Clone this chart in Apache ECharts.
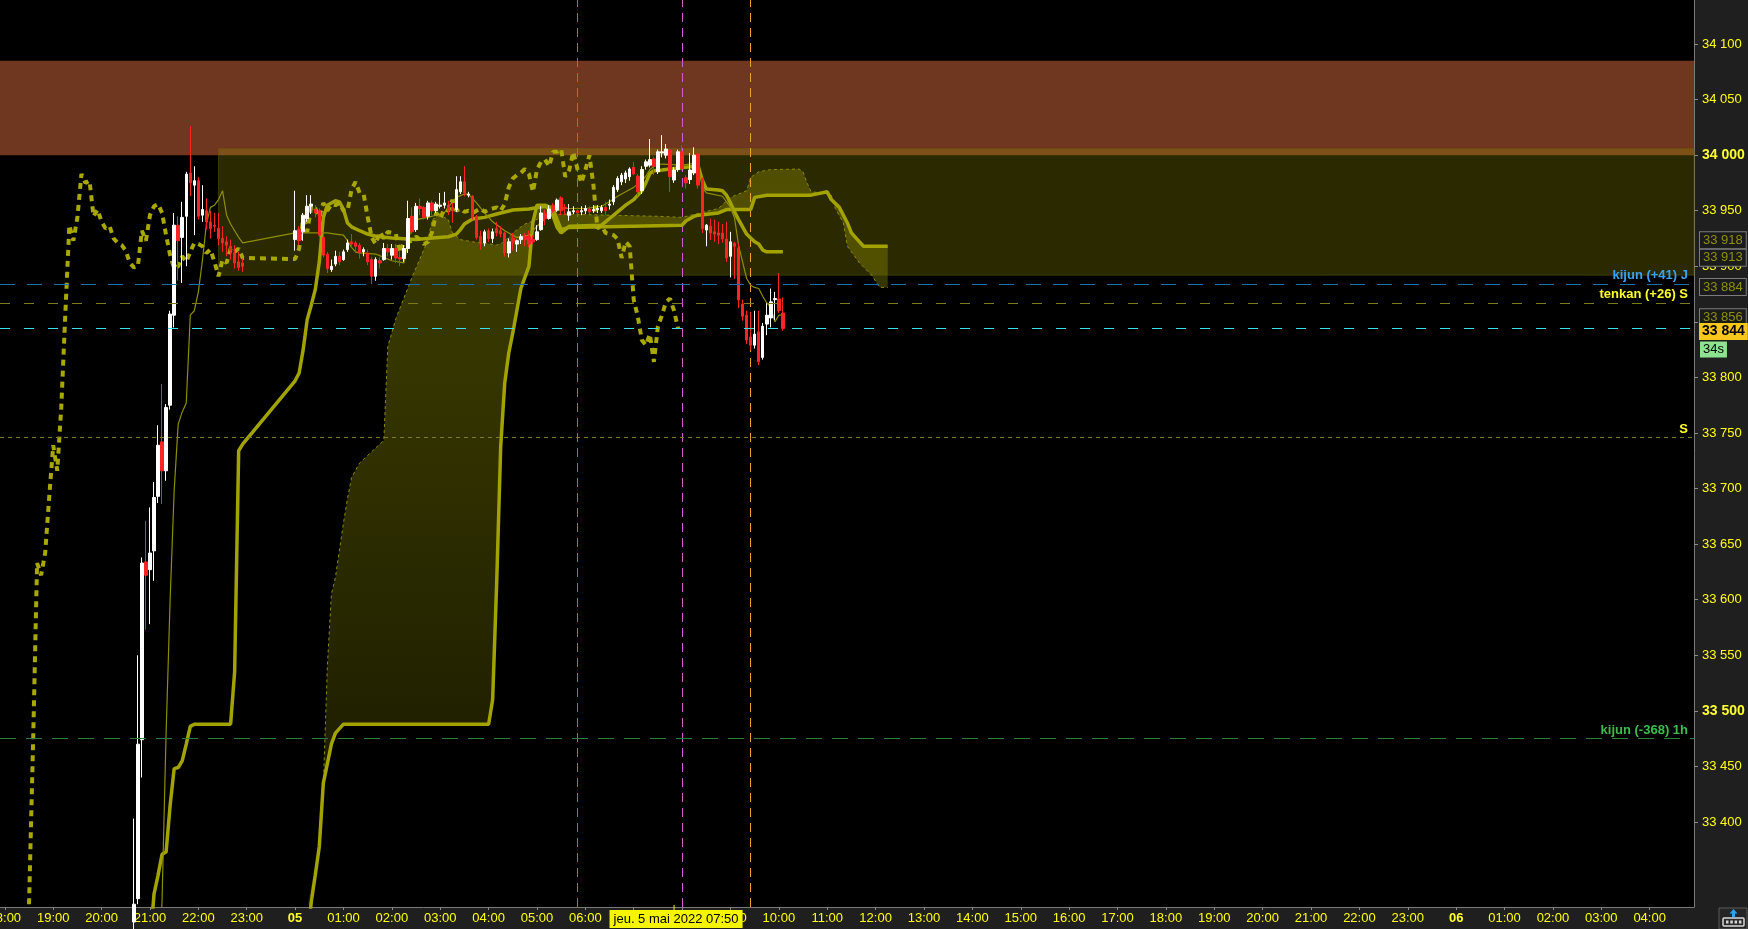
<!DOCTYPE html>
<html><head><meta charset="utf-8">
<script src="https://cdn.jsdelivr.net/npm/echarts@6/dist/echarts.min.js"></script>
<style>html,body{margin:0;padding:0;background:#1f1f1f;overflow:hidden}#c{width:1748px;height:929px}</style>
</head><body><div id="c"></div>
<script>
// ---------------- DATA ----------------
// times are 'day/HH:MM' (May 2022)
const SESSIONS = [['4/18:30','4/22:55'],['5/00:00','5/10:05']];
const FIRST_CANDLE = '4/20:40';
const CHIKOU_SHIFT = 26;

const OPEN = [
33310,33331,33474,33634,33627,33644,33693,33742,33716,33775,33856,33937,33926,33945,33984,33973,33977,33946,33950,33940,33937,33934,33925,33922,33918,33912,33904,33903,
33924,33933,33931,33943,33954,33951,33950,33926,33911,33897,
33902,33909,33906,33915,33922,33921,33919,33913,33912,33906,
33891,33905,33906,33916,33910,33916,33908,33907,33916,33945,
33933,33954,33953,33945,33957,33950,33954,33955,33955,33953,
33951,33967,33976,33964,33963,33945,33927,33921,33932,33925,
33934,33932,33930,33912,33925.5,33920,33924,33927,33926.6,33924,
33924,33933,33948,33943,33955,33950.6,33961.6,33953,33946,33949,
33950,33949,33950,33951.5,33950,33951,33950,33953,33955,33958,
33969,33976,33978.5,33980.6,33989,33981,33968,33990,33991,33996.6,
33985,34002,34000,34004.6,33977.6,33987,34003,33979.6,33978,33984,
34001,33979,33932.6,33936,33931,33930,33930,33924.5,33909,33920.7,
33916.5,33866,33856,33836.4,33829,33841,33818,33848,33853.5,33870,
33870.6,33858];
const CLOSE = [
33326,33470,33633,33622,33642,33692,33739,33716,33773,33857,33937,33923,33944,33983,33975,33977,33945,33951,33940,33934,33936,33925,33921,33919,33914,33903,33899,33900,
33932,33923,33946,33954,33956,33948,33928,33910,33898,33900,
33909,33904,33913,33921,33920,33918,33912,33915,33904,33891,
33906,33903,33916,33913,33916,33907.5,33906.5,33916,33943,33931,
33954,33952,33944,33957,33950,33956,33955,33957,33950,33950,
33969,33976,33966,33965,33944.5,33926,33920,33931,33925,33931,
33930,33929,33912,33922,33922,33923,33926.6,33924,33920,33922,
33931,33948,33943,33951.5,33950,33959.6,33950,33952,33949,33950,
33948,33950,33952,33949,33951,33952,33953,33950,33956,33971,
33979,33982,33984,33987.5,33983,33967,33987,33994,33996,33990,
34003,34003,34005.5,33980.6,33986.6,34003,33988,33975,33986.6,34000,
33973,33934,33937,33930,33929,33928,33924.5,33907.5,33922,33918,
33869.7,33855,33833.7,33829,33839,33814,33846,33856,33868,33871,
33860,33844];
const LOW = [
33280,33326,33440,33573,33578,33617,33687,33686,33707,33771,33845,33887,33885,33900,33963,33928,33942,33940,33933,33925,33931,33919,33913,33909,33906,33898,33896,33895,
33914,33919,33923,33940,33947,33944,33926,33908,33894,33895,
33900,33901,33905,33913,33917,33912,33907,33909,33901,33884,
33887,33898,33905,33909,33906,33903,33900,33904,33912,33929,
33931,33946,33942,33942,33946,33948,33952,33952,33946,33939,
33949,33965,33963,33962,33942,33924,33915,33918,33922,33921,
33927,33926,33908.6,33908,33914,33913,33920,33918,33917,33920,
33923,33932,33937,33942,33948,33949,33946,33946,33941,33947,
33946,33946,33947,33947,33948,33948,33948,33946,33951,33955,
33967,33973,33975,33977,33982,33963,33965,33987,33989,33982,
33983,33998,33997,33967,33975,33985,33986,33970,33974,33982,
33970,33930,33918,33923.6,33922,33920,33921,33904,33890,33888.6,
33862.5,33851,33830,33824.6,33826,33811,33816,33838,33845,33851.7,
33858,33842];
const HIGH = [
33403,33550,33638,33671,33683,33706,33757,33794,33776,33860,33948,33945,33958,33985,34026,33990,33980,33973,33961,33950,33948,33948,33936,33927,33924,33919,33913,33907,
33968,33936,33948,33964,33964,33955,33952,33928,33913,33906,
33914,33913,33915,33924,33929,33923,33921,33917,33915,33908,
33908,33908,33921,33920,33920,33920,33914,33919,33959,33953,
33957,33961,33954,33959,33959,33958,33966,33967,33959,33957,
33981,33981,33990,33967,33964,33946,33932,33933,33934,33934,
33940,33936,33931,33925,33930,33924,33929,33930,33932,33928,
33937,33954,33951,33955,33957,33961,33963,33956,33956,33954,
33953,33954,33955,33954,33955,33955,33955,33958,33960,33973,
33981,33984,33986,33989,33994,33983,33990,33996,34014.5,33998,
34005,34018,34010,34006,33989,34005,34009,33982,34002,34007,
34002,33980,33938,33943,33942,33940,33938,33940,33931,33922,
33921,33870,33860,33859,33860,33860,33849,33866.7,33880,33877,
33894,33872];

const TENKAN = [['4/21:10',33250],['4/21:15',33330],['4/21:20',33480],['4/21:25',33600],['4/21:30',33698],['4/21:35',33758],['4/21:40',33769],['4/21:45',33777],['4/21:50',33856],['4/21:55',33860],['4/22:00',33877],['4/22:05',33905],['4/22:10',33938],['4/22:15',33953],['4/22:20',33955],['4/22:25',33960],['4/22:30',33968],['4/22:35',33946],['4/22:40',33938],['4/22:45',33932],['4/22:50',33926],['4/22:55',33921],
['5/00:00',33930],['5/00:40',33930],['5/00:50',33929],['5/01:00',33928],['5/01:05',33923],['5/01:10',33917],['5/01:15',33913],['5/01:20',33912],['5/01:40',33911],['5/01:50',33908],['5/02:00',33905],['5/02:15',33903],['5/02:20',33921],['5/02:25',33938],['5/02:30',33942],['5/02:45',33944],['5/02:55',33946],['5/03:05',33948],['5/03:15',33958],['5/03:20',33962],['5/03:30',33965],['5/03:35',33965],['5/03:45',33957],['5/03:55',33948],['5/04:05',33940],['5/04:20',33932],['5/04:35',33926],['5/04:50',33928],['5/05:00',33936],['5/05:10',33943],['5/05:20',33949],['5/05:35',33952],['5/06:00',33952],['5/06:20',33954],['5/06:30',33958],['5/06:40',33963],['5/06:50',33967],['5/07:00',33971],['5/07:10',33977],['5/07:15',33981],['5/07:20',33987],['5/07:25',33990],['5/07:35',33992],['5/08:00',33991],['5/08:20',33993],['5/08:25',33971],['5/08:30',33966],['5/08:50',33963],['5/09:00',33953],['5/09:05',33943.5],['5/09:10',33919],['5/09:15',33904],['5/09:20',33889],['5/09:25',33883],['5/09:30',33881],['5/09:35',33880],['5/09:40',33873],['5/09:45',33867],['5/09:50',33863],['5/09:55',33850],['5/10:00',33856],['5/10:05',33856]];

const KIJUN = [['4/21:00',33290],['4/21:05',33335],['4/21:10',33352],['4/21:15',33371],['4/21:20',33373],['4/21:25',33415],['4/21:30',33448],['4/21:35',33449],['4/21:40',33455],['4/21:45',33470],['4/21:50',33486],['4/21:55',33488],['4/22:40',33488],['4/22:45',33535],['4/22:50',33734],['4/22:55',33740],
['5/00:00',33797],['5/00:05',33804],['5/00:10',33825],['5/00:15',33852],['5/00:20',33865],['5/00:25',33879],['5/00:30',33904],['5/00:35',33944],['5/00:40',33955],['5/00:50',33959],['5/00:55',33958],['5/01:00',33951],['5/01:05',33939],['5/01:10',33935.5],['5/01:20',33932],['5/01:30',33929],['5/01:40',33927],['5/02:00',33925.5],['5/02:30',33924],['5/02:50',33925.5],['5/03:10',33926.6],['5/03:20',33929],['5/03:25',33933],['5/03:30',33938],['5/03:40',33942.5],['5/03:55',33944],['5/04:10',33947],['5/04:30',33950.6],['5/04:50',33951.5],['5/05:10',33954],['5/05:15',33952],['5/05:20',33945],['5/05:25',33935],['5/05:30',33930],['5/05:35',33933],['5/05:40',33936],['5/06:20',33937],['5/06:25',33940],['5/06:30',33943],['5/06:40',33949],['5/06:50',33955],['5/07:00',33960],['5/07:10',33968],['5/07:15',33975],['5/07:20',33983.5],['5/07:25',33986],['5/07:35',33986.6],['5/07:50',33988],['5/08:10',33989.5],['5/08:20',33990],['5/08:25',33977.6],['5/08:30',33969.5],['5/08:45',33968.6],['5/08:50',33968],['5/08:55',33964],['5/09:00',33957],['5/09:05',33949],['5/09:10',33942],['5/09:15',33935.5],['5/09:20',33929],['5/09:25',33925.5],['5/09:30',33922],['5/09:35',33920],['5/09:40',33914.6],['5/09:45',33913],['5/10:05',33913]];

const SENKOU_A = [['5/00:15',33290],['5/00:20',33328],['5/00:25',33352],['5/00:30',33378],['5/00:35',33435],['5/00:45',33470],['5/00:50',33480],['5/01:00',33488],['5/04:00',33488],['5/04:05',33510],['5/04:10',33615],['5/04:15',33738],['5/04:20',33795],['5/04:25',33822],['5/04:30',33840],['5/04:40',33880],['5/04:50',33900],['5/04:55',33940],['5/05:00',33955],['5/05:10',33955],['5/05:20',33952],['5/05:25',33942],['5/05:30',33933],['5/05:40',33935],['5/08:00',33937],['5/08:05',33941],['5/08:15',33945],['5/08:20',33946],['5/08:45',33948],['5/08:55',33951],['5/09:25',33951],['5/09:30',33962],['5/09:45',33964],['5/10:40',33964],['5/11:00',33967],['5/11:05',33960],['5/11:15',33953],['5/11:25',33939],['5/11:30',33930],['5/11:40',33922],['5/11:45',33918],['5/12:15',33918]];

const SENKOU_B = [['5/00:30',33380],['5/00:35',33432],['5/00:40',33540],['5/00:45',33605],['5/00:50',33620],['5/01:00',33669],['5/01:05',33691],['5/01:10',33710],['5/01:20',33723],['5/01:45',33740],['5/01:50',33743],['5/01:55',33828],['5/02:05',33853],['5/02:25',33890],['5/02:45',33924],['5/02:50',33942],['5/03:00',33946],['5/03:10',33942],['5/03:15',33930],['5/03:25',33924],['5/03:40',33922],['5/03:55',33921],['5/04:10',33919],['5/04:20',33922],['5/04:30',33930],['5/04:45',33938],['5/05:10',33945],['5/05:30',33947],['5/07:30',33945],['5/08:00',33944],['5/08:45',33952],['5/09:00',33962],['5/09:20',33968],['5/09:25',33980],['5/09:35',33985],['5/09:50',33987],['5/10:25',33987.5],['5/10:30',33985],['5/10:35',33975],['5/10:40',33967],['5/10:55',33966],['5/11:05',33964],['5/11:10',33952],['5/11:20',33939],['5/11:25',33918],['5/11:40',33903],['5/11:55',33892],['5/12:05',33881],['5/12:15',33881]];

const RESIST_ZONE = [34000, 34085];
const RANGE_ZONE = {from:'4/22:25', low:33892, high:34006};
const LEVELS = [
  {name:'kijun (+41) J', value:33884},
  {name:'tenkan (+26) S', value:33867},
  {name:'S', value:33746},
  {name:'kijun (-368) 1h', value:33475}
];
const LAST_PRICE = 33844;
const TIMER = '34s';
const AXIS_MARKS = [33918, 33913, 33884, 33856];
const VLINES = ['5/05:50','5/08:00','5/09:25'];
const CROSSHAIR = {time:'5/07:50', text:'jeu. 5 mai 2022 07:50'};

const X_TICK_START = '4/18:00';
const X_TICK_LABELS = ['18:00','19:00','20:00','21:00','22:00','23:00','05','01:00','02:00','03:00','04:00','05:00','06:00','07:00','08:00','09:00','10:00','11:00','12:00','13:00','14:00','15:00','16:00','17:00','18:00','19:00','20:00','21:00','22:00','23:00','06','01:00','02:00','03:00','04:00'];
const Y_TICKS = [33400,33450,33500,33550,33600,33650,33700,33750,33800,33850,33900,33950,34000,34050,34100];
const Y_BOLD = [33500, 34000];
const X_RANGE = [-366, 1735];
const Y_RANGE = [33323.5, 34139.6];

// ---------------- HELPERS ----------------
function toMin(s){ const [d,hm]=s.split('/'); const [h,m]=hm.split(':').map(Number); return (Number(d)-5)*1440+h*60+m; }
const BARS = [];
SESSIONS.forEach(([a,b])=>{ for(let t=toMin(a);t<=toMin(b);t+=5) BARS.push(t); });
const START = BARS.indexOf(toMin(FIRST_CANDLE));
const X_TICK_VALUES = X_TICK_LABELS.map((_,i)=>toMin(X_TICK_START)+60*i);
const pairs = arr => arr.map(([t,v])=>[toMin(t),v]);
const fmt = v => { const s=String(Math.round(v)); return s.slice(0,s.length-3)+' '+s.slice(-3); };

const candleData = OPEN.map((o,j)=>[BARS[START+j], o, CLOSE[j], LOW[j], HIGH[j]]);
const chikouData = CLOSE.map((c,j)=>[BARS[START+j-CHIKOU_SHIFT], c]);

const FONT = "'Liberation Sans', Arial, sans-serif";
const YEL = '#ffff14';
const OLIVE = '#a3a300';

const LEVEL_STYLE = [
  {line:'#1d6fa5', text:'#3aa2f2', dash:[15,12], width:1},
  {line:'#7c7c1e', text:'#ffff2a', dash:[10,14], width:1},
  {line:'#7c7c1e', text:'#ffff2a', dash:[4,4], width:1},
  {line:'#2a7f38', text:'#3cbd4d', dash:[16,10], width:1}
];
const VLINE_COLORS = ['#4a7fe0','#cc5fcc','#e8a22e'];

const chart = echarts.init(document.getElementById('c'));

const option = {
  animation:false,
  backgroundColor:'#1f1f1f',
  grid:{left:0, right:54, top:0, bottom:22, show:true, backgroundColor:'#000', borderWidth:0, containLabel:false, outerBoundsMode:'none'},
  xAxis:{
    type:'value', min:X_RANGE[0], max:X_RANGE[1],
    splitLine:{show:false},
    axisLine:{show:true, onZero:false, lineStyle:{color:'#7a7a7a', width:1}},
    axisTick:{show:true, length:3, lineStyle:{color:'#8a8a8a'}, customValues:X_TICK_VALUES},
    axisLabel:{
      customValues:X_TICK_VALUES, margin:5, color:YEL, fontSize:13, fontFamily:FONT,
      formatter:v=>{ const s=X_TICK_LABELS[X_TICK_VALUES.indexOf(v)]||''; return s.length===2?'{d|'+s+'}':s; },
      rich:{d:{fontWeight:'bold', color:'#ffff30', fontSize:13, fontFamily:FONT}}
    }
  },
  yAxis:{
    type:'value', position:'right', min:Y_RANGE[0], max:Y_RANGE[1],
    splitLine:{show:false},
    axisLine:{show:true, onZero:false, lineStyle:{color:'#7a7a7a', width:1}},
    axisTick:{show:true, length:4, lineStyle:{color:'#8a8a8a'}, customValues:Y_TICKS},
    axisLabel:{
      customValues:Y_TICKS, margin:8, color:YEL, fontSize:13, fontFamily:FONT,
      formatter:v=> Y_BOLD.indexOf(v)>=0 ? '{b|'+fmt(v)+'}' : fmt(v),
      rich:{b:{fontWeight:'bold', color:'#ffff30', fontSize:14, fontFamily:FONT}}
    }
  },
  series:[
    { // cloud between senkou spans
      type:'custom', z:0, silent:true, data:[[X_RANGE[0], Y_RANGE[0]]],
      renderItem:(params, api)=>{
        const pts=[];
        pairs(SENKOU_A).forEach(([x,v])=>pts.push(api.coord([x, Math.max(v, Y_RANGE[0])])));
        pairs(SENKOU_B).reverse().forEach(([x,v])=>pts.push(api.coord([x, Math.max(v, Y_RANGE[0])])));
        return {type:'polygon', shape:{points:pts}, style:{fill:{type:'linear',x:0,y:0,x2:0,y2:1,colorStops:[
          {offset:0,color:'rgb(52,52,0)'},{offset:0.25,color:'rgb(54,54,0)'},{offset:1,color:'rgb(22,22,0)'}]}}};
      }
    },
    { // zones + vertical markers
      type:'line', name:'zones', data:[], z:1,
      markArea:{silent:true, z:1, data:[
        [{xAxis:'min', yAxis:RESIST_ZONE[1], itemStyle:{color:'rgb(111,54,32)'}},{xAxis:'max', yAxis:RESIST_ZONE[0]}],
        [{xAxis:toMin(RANGE_ZONE.from), yAxis:RANGE_ZONE.high, itemStyle:{color:'rgba(160,150,0,0.27)', borderColor:'rgba(100,95,0,0.45)', borderWidth:1}},{xAxis:'max', yAxis:RANGE_ZONE.low}]
      ]},
      markLine:{silent:true, z:1, symbol:['none','none'], label:{show:false},
        data:VLINES.map((t,i)=>({xAxis:toMin(t), lineStyle:{color:VLINE_COLORS[i], type:[9,6], width:1}}))}
    },
    {type:'line', name:'senkouB', data:pairs(SENKOU_B), z:2, showSymbol:false, silent:true,
      lineStyle:{color:'#8a8a00', width:1, type:[3,3]}},
    {type:'line', name:'senkouA', data:pairs(SENKOU_A), z:2, showSymbol:false, silent:true,
      lineStyle:{color:OLIVE, width:3.5}},
    {type:'line', name:'kijun', data:pairs(KIJUN), z:2, showSymbol:false, silent:true,
      lineStyle:{color:OLIVE, width:3.5}},
    {type:'line', name:'tenkan', data:pairs(TENKAN), z:2, showSymbol:false, silent:true,
      lineStyle:{color:'#8e8e00', width:1.2}},
    {type:'line', name:'chikou', data:chikouData, z:2, showSymbol:false, silent:true,
      lineStyle:{color:'#a8a800', width:4, type:[6,5]}},
    {type:'candlestick', name:'price', data:candleData, z:3, silent:true, barWidth:3,
      encode:{x:0, y:[1,2,3,4]},
      itemStyle:{color:'#ffffff', color0:'#ff2424', borderColor:'#ffffff', borderColor0:'#ff2424', borderWidth:1}},
    { // horizontal levels
      type:'line', name:'levels', data:[], z:4, clip:false,
      markLine:{silent:true, z:4, symbol:['none','none'],
        data:LEVELS.map((l,i)=>({yAxis:l.value, lineStyle:{color:LEVEL_STYLE[i].line, type:LEVEL_STYLE[i].dash, width:LEVEL_STYLE[i].width},
          label:{show:true, position:'insideEndTop', distance:[6,2], formatter:l.name, color:LEVEL_STYLE[i].text, fontWeight:'bold', fontSize:13, fontFamily:FONT}}))
          .concat([{yAxis:LAST_PRICE, lineStyle:{color:'#3fdde6', type:[10,14], width:1}, label:{show:false}}])
      }
    }
  ]
};
chart.setOption(option);

// price boxes on the axis, positioned through the axis scale
const gx = 1694;
const px = v => chart.convertToPixel({yAxisIndex:0}, v);
const nudge = {33918:-6, 33913:6, 33884:3, 33856:2};
const graphics = [];
AXIS_MARKS.forEach(v=>{
  graphics.push({type:'text', z:100, x:gx+6, y:px(v)+(nudge[v]||0), style:{text:fmt(v), fill:'#8f8f10', font:'13px '+FONT,
    verticalAlign:'middle', backgroundColor:'#1b1b1b', borderColor:'#7c7c7c', borderWidth:1, padding:[2,3,1,3]}});
});
const ly = px(LAST_PRICE);
graphics.push({type:'text', z:101, x:gx+5, y:ly+3, style:{text:fmt(LAST_PRICE), fill:'#000', font:'bold 14px '+FONT,
  verticalAlign:'middle', backgroundColor:'#f7c71c', padding:[2,3,1,3]}});
graphics.push({type:'text', z:101, x:gx+6, y:ly+21, style:{text:TIMER, fill:'#000', font:'13px '+FONT,
  verticalAlign:'middle', backgroundColor:'#8fe28f', padding:[2,3,1,3]}});
// crosshair date label
const cx = chart.convertToPixel({xAxisIndex:0}, toMin(CROSSHAIR.time));
graphics.push({type:'line', z:100, shape:{x1:cx, y1:905, x2:cx, y2:911}, style:{stroke:'#f2f200', lineWidth:1}});
graphics.push({type:'text', z:101, x:cx+2, y:919, style:{text:CROSSHAIR.text, fill:'#000', font:'13px '+FONT,
  align:'center', verticalAlign:'middle', backgroundColor:'#f5f500', padding:[3,4,2,4]}});
// corner icon
graphics.push({type:'rect', z:100, shape:{x:1719, y:908, width:28, height:21}, style:{fill:'#252525', stroke:'#5a5a5a', lineWidth:1}});
graphics.push({type:'rect', z:101, shape:{x:1723, y:918, width:21, height:8, r:1}, style:{fill:'#2a2a2a', stroke:'#d8d8d8', lineWidth:1.5}});
[0,1,2,3].forEach(i=>graphics.push({type:'rect', z:102, shape:{x:1726+i*4.3, y:920.5, width:2.5, height:3}, style:{fill:'#d8d8d8'}}));
graphics.push({type:'polygon', z:102, shape:{points:[[1733.5,909],[1729.5,913.5],[1732,913.5],[1732,917],[1735,917],[1735,913.5],[1737.5,913.5]]}, style:{fill:'#29a3f5'}});
chart.setOption({graphic:graphics});
</script></body></html>
